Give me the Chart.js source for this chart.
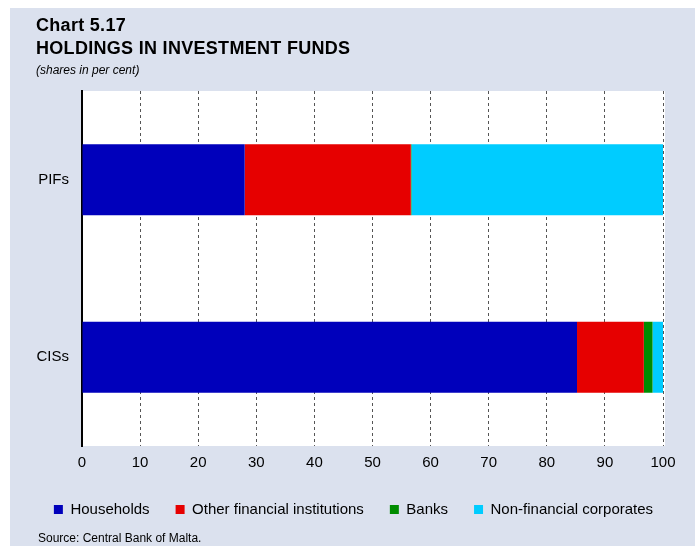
<!DOCTYPE html>
<html>
<head>
<meta charset="utf-8">
<script src="https://cdn.jsdelivr.net/npm/chart.js@4"></script>
<style>
  body { margin: 0; background: #ffffff; }
  #wrap { position: relative; width: 695px; height: 546px; background: #ffffff; overflow: hidden; }
  #panel { position: absolute; left: 10px; top: 8px; right: 0; bottom: 0; background: #dbe1ee; }
  #wrap canvas { position: absolute; left: 0; top: 0; }
  .t { position: absolute; left: 36px; font-family: "Liberation Sans", Arial, sans-serif; color: #000; white-space: nowrap; }
</style>
</head>
<body>
<div id="wrap">
  <div id="panel"></div>
  <canvas id="myChart" width="695" height="546"></canvas>
  <div class="t" style="top:15px;font-size:18px;font-weight:bold;letter-spacing:0.3px;">Chart 5.17</div>
  <div class="t" style="top:38px;font-size:18px;font-weight:bold;letter-spacing:0.3px;">HOLDINGS IN INVESTMENT FUNDS</div>
  <div class="t" style="top:63px;font-size:12px;font-style:italic;">(shares in per cent)</div>
  <div class="t" style="top:531px;left:38px;font-size:12px;">Source: Central Bank of Malta.</div>
</div>
<script>
// data
const categories = ['PIFs', 'CISs'];
const households = [28.0, 85.2];
const otherFinancial = [28.6, 11.5];
const banks = [0.1, 1.5];
const nonFinancial = [43.3, 1.8];
const xTicks = [0, 10, 20, 30, 40, 50, 60, 70, 80, 90, 100];

Chart.defaults.font.family = '"Liberation Sans", Arial, sans-serif';
Chart.defaults.color = '#000';

// white plot background
const plotBg = {
    id: 'plotBg',
    beforeDraw(chart) {
        const a = chart.chartArea;
        const ctx = chart.ctx;
        ctx.save();
        ctx.fillStyle = '#ffffff';
        ctx.fillRect(a.left, a.top, a.right - a.left + 2, a.bottom - a.top);
        ctx.restore();
    }
};

// extra room under the legend, and nudge it right a bit
const legendSpace = {
    id: 'legendSpace',
    beforeInit(chart) {
        const fit = chart.legend.fit;
        chart.legend.fit = function() {
            fit.bind(chart.legend)();
            this.height += 6;
        };
    },
    afterLayout(chart) {
        chart.legend.left += 22;
        chart.legend.right += 22;
    }
};

const ctx = document.getElementById('myChart');
const myChart = new Chart(ctx, {
    type: 'bar',
    data: {
        labels: categories,
        datasets: [
            { label: 'Households', data: households, backgroundColor: '#0000bb' },
            { label: 'Other financial institutions', data: otherFinancial, backgroundColor: '#e60000' },
            { label: 'Banks', data: banks, backgroundColor: '#008c00' },
            { label: 'Non-financial corporates', data: nonFinancial, backgroundColor: '#00ccff' }
        ]
    },
    options: {
        indexAxis: 'y',
        responsive: false,
        animation: false,
        layout: { padding: { top: 91, bottom: 13, left: 0, right: 32 } },
        datasets: {
            bar: { categoryPercentage: 0.4, barPercentage: 1.0, borderWidth: 0 }
        },
        plugins: {
            legend: {
                position: 'bottom',
                labels: {
                    boxWidth: 9,
                    boxHeight: 9,
                    padding: 26,
                    font: { size: 15 }
                }
            },
            tooltip: { enabled: false }
        },
        scales: {
            x: {
                stacked: true,
                min: 0,
                max: 100,
                afterBuildTicks(scale) { scale.ticks = xTicks.map(v => ({ value: v })); },
                afterFit(scale) { scale.height = 30; },
                ticks: { font: { size: 15 }, padding: 8, maxRotation: 0 },
                grid: { color: '#555', drawTicks: false, tickLength: 0 },
                border: { display: false, dash: [3, 3] }
            },
            y: {
                stacked: true,
                afterFit(scale) { scale.width = 82; },
                ticks: { font: { size: 15 }, padding: 13 },
                grid: { display: false, drawTicks: false },
                border: { display: true, color: '#000', width: 2 }
            }
        }
    },
    plugins: [plotBg, legendSpace]
});
</script>
</body>
</html>
